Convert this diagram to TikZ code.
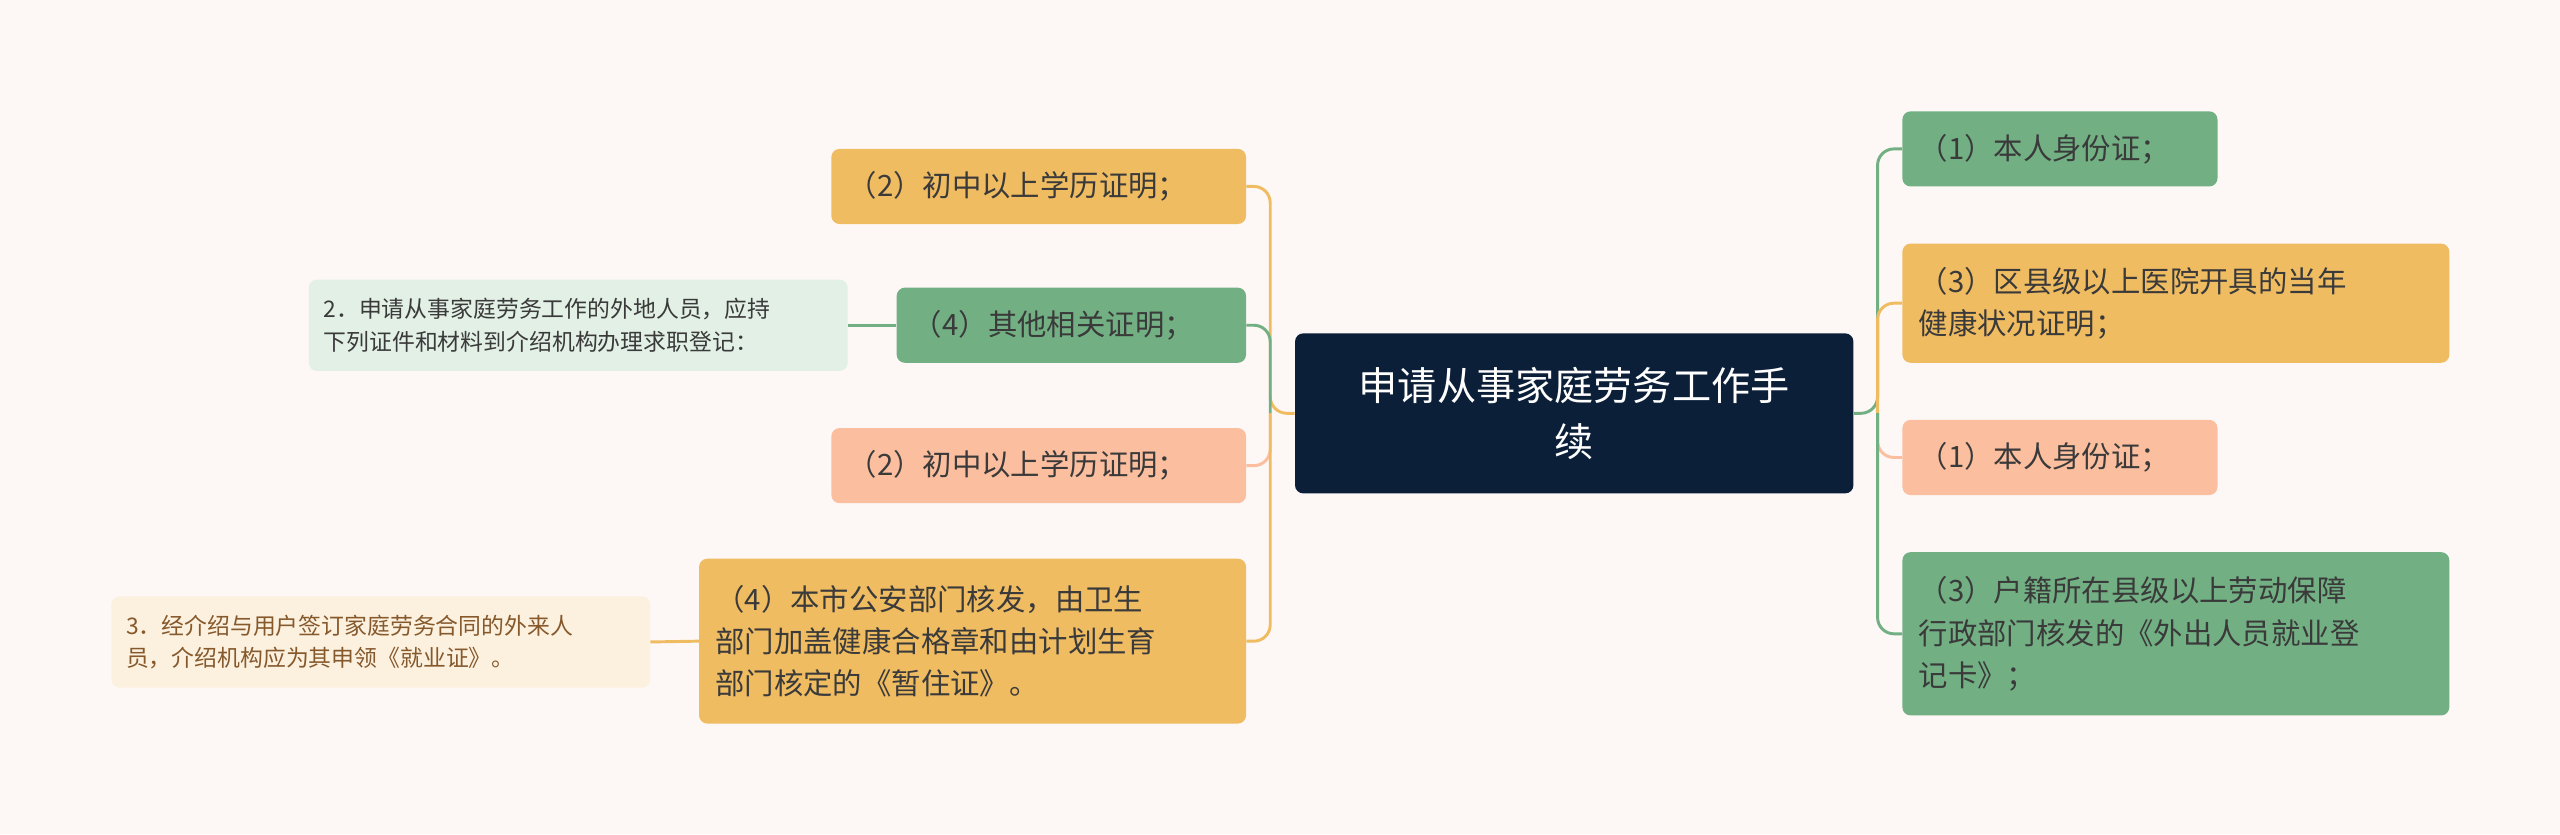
\documentclass[tikz,border=0pt]{standalone}
\usepackage{fontspec}
\setmainfont{Noto Sans CJK SC}
\definecolor{bg}{HTML}{FDF8F6}
\definecolor{navy}{HTML}{0B1F38}
\definecolor{gr}{HTML}{72B084}
\definecolor{og}{HTML}{F0BC62}
\definecolor{sa}{HTML}{FBBF9F}
\definecolor{lg}{HTML}{E2F0E6}
\definecolor{cr}{HTML}{FCF1DE}
\definecolor{tx}{HTML}{3A3A3A}
\begin{document}
\begin{tikzpicture}[x=1pt,y=1pt,
 bx/.style={rounded corners=5pt,anchor=north west,inner xsep=10pt,inner ysep=0pt,align=left,font=\fontsize{18}{26}\selectfont,text=tx},
 sm/.style={bx,font=\fontsize{14}{20}\selectfont,inner xsep=9pt},
 ln/.style={line width=1.8pt,rounded corners=10pt}]
\fill[bg] (0,0) rectangle (1568,-511);
\useasboundingbox (0,0) rectangle (1568,-511);
\node[bx,fill=navy,text=white,font=\fontsize{24}{34}\selectfont,minimum width=342,minimum height=98,align=center,text width=322] (c) at (793,-204) {申请从事家庭劳务工作手\\续};
% right
\node[bx,fill=gr,minimum width=193,minimum height=46,text width=173] (r1) at (1165,-68) {（1）本人身份证；};
\node[bx,fill=og,minimum width=335,minimum height=73,text width=315] (r2) at (1165,-149) {（3）区县级以上医院开具的当年\\健康状况证明；};
\node[bx,fill=sa,minimum width=193,minimum height=46,text width=173] (r3) at (1165,-257) {（1）本人身份证；};
\node[bx,fill=gr,minimum width=335,minimum height=100,text width=315] (r4) at (1165,-338) {（3）户籍所在县级以上劳动保障\\行政部门核发的《外出人员就业登\\记卡》；};
% left
\node[bx,fill=og,minimum width=254,minimum height=46,text width=234] (l1) at (509,-91) {（2）初中以上学历证明；};
\node[bx,fill=gr,minimum width=214,minimum height=46,text width=194] (l2) at (549,-176) {（4）其他相关证明；};
\node[sm,fill=lg,minimum width=330,minimum height=56,text width=312] (l2a) at (189,-171) {2．申请从事家庭劳务工作的外地人员，应持\\下列证件和材料到介绍机构办理求职登记：};
\node[bx,fill=sa,minimum width=254,minimum height=46,text width=234] (l3) at (509,-262) {（2）初中以上学历证明；};
\node[bx,fill=og,minimum width=335,minimum height=101,text width=315] (l4) at (428,-342) {（4）本市公安部门核发，由卫生\\部门加盖健康合格章和由计划生育\\部门核定的《暂住证》。};
\node[sm,fill=cr,text=brown!70!black,minimum width=330,minimum height=56,text width=312] (l4a) at (68,-365) {3．经介绍与用户签订家庭劳务合同的外来人\\员，介绍机构应为其申领《就业证》。};
% connectors
\coordinate (rt) at (1150,-253);
\coordinate (lt) at (778,-253);
\draw[ln,gr] (c.east) -- (rt) |- (r1.west);
\draw[ln,og] (rt) |- (r2.west);
\draw[ln,sa] (rt) |- (r3.west);
\draw[ln,gr] (rt) |- (r4.west);
\draw[ln,og] (c.west) -- (lt) |- (l1.east);
\draw[ln,gr] (lt) |- (l2.east);
\draw[ln,sa] (lt) |- (l3.east);
\draw[ln,og] (lt) |- (l4.east);
\draw[ln,gr] (l2.west) -- (l2a.east);
\draw[ln,og] (l4.west) -- (l4a.east);
\end{tikzpicture}
\end{document}
